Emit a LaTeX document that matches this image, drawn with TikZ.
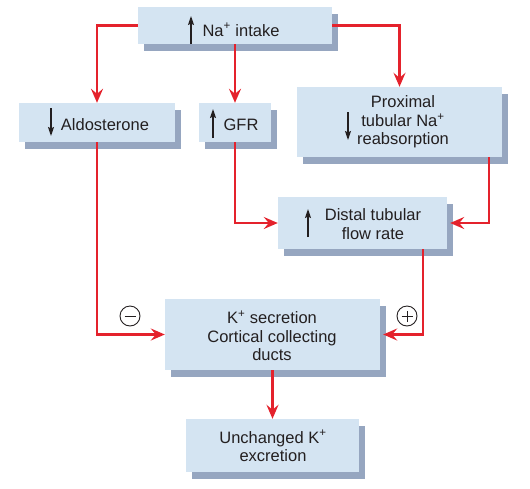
\documentclass[tikz,border=0pt]{standalone}
\usepackage{fontspec}
\setmainfont{Liberation Sans}
\usetikzlibrary{arrows.meta,shadows,calc}
\definecolor{boxfill}{RGB}{212,228,242}
\definecolor{boxshadow}{RGB}{150,166,192}
\definecolor{arrred}{RGB}{228,34,44}
\definecolor{txt}{RGB}{35,31,32}
\begin{document}
\begin{tikzpicture}[x=1pt,y=-1pt,
  box/.style={fill=boxfill, draw=none, inner sep=0pt,
    drop shadow={shadow xshift=6pt,shadow yshift=-7pt,fill=boxshadow,opacity=1}},
  lab/.style={font=\fontsize{16.5}{18.5}\selectfont, align=center, inner sep=0pt, text=txt},
  glyph/.style={-{Stealth[length=9pt,width=6pt,inset=1.5pt]}, line width=1.3pt, txt},
  conn/.style={draw=arrred, line width=2.4pt, -{Stealth[length=14pt,width=12pt,inset=5pt]}},
  sign/.style={circle, draw=txt, line width=0.9pt, minimum size=20pt, inner sep=0pt}]
\useasboundingbox (0,0) rectangle (530,488);

% boxes
\node[box, minimum width=194pt, minimum height=37pt] (na) at (235,25.5) {};
\node[box, minimum width=156pt, minimum height=39pt] (ald) at (97,122.5) {};
\node[box, minimum width=72pt, minimum height=39pt] (gfr) at (235,122.5) {};
\node[box, minimum width=205pt, minimum height=70pt] (prox) at (399.5,122) {};
\node[box, minimum width=169pt, minimum height=52pt] (dist) at (362.5,223) {};
\node[box, minimum width=215pt, minimum height=71pt] (ksec) at (272.5,334.5) {};
\node[box, minimum width=173pt, minimum height=53pt] (unch) at (272.5,445.5) {};

% texts
\node[lab, anchor=base] (tna) at (241,36) {Na\textsuperscript{+} intake};
\node[lab, anchor=base] (tald) at (105,130) {Aldosterone};
\node[lab, anchor=base] (tgfr) at (241,130) {GFR};
\node[lab] (tprox) at (403,122) {Proximal\\tubular Na\textsuperscript{+}\\reabsorption};
\node[lab] (tdist) at (373,224) {Distal tubular\\flow rate};
\node[lab] (tksec) at (272,336) {K\textsuperscript{+} secretion\\Cortical collecting\\ducts};
\node[lab] (tunch) at (273,446) {Unchanged K\textsuperscript{+}\\excretion};

% up/down glyph arrows
\draw[glyph] (191,44) -- (191,16);
\draw[glyph] (51,108) -- (51,136);
\draw[glyph] (213,138) -- (213,109);
\draw[glyph] (348,112) -- (348,140);
\draw[glyph] (308,237) -- (308,209);

% connectors
\draw[conn] (na.west) -| (ald.north);
\draw[conn] (na.south) -- (gfr.north);
\draw[conn] (na.east) -| (prox.north);
\draw[conn] (ald.south) |- (ksec.west);
\draw[conn] (gfr.south) |- (dist.west);
\draw[conn] ([xshift=-13pt]prox.south east) |- ([xshift=3pt]dist.east);
\draw[conn] ([xshift=-24pt]dist.south east) |- ([xshift=3pt]ksec.east);
\draw[conn] (ksec.south) -- (unch.north);

% signs
\node[sign] (minus) at (130,316) {};
\draw[txt, line width=0.9pt] ([xshift=-5.5pt]minus.center) -- ([xshift=5.5pt]minus.center);
\node[sign] (plus) at (407,316) {};
\draw[txt, line width=0.9pt] ([xshift=-5.5pt]plus.center) -- ([xshift=5.5pt]plus.center);
\draw[txt, line width=0.9pt] ([yshift=-5.5pt]plus.center) -- ([yshift=5.5pt]plus.center);
\end{tikzpicture}
\end{document}
